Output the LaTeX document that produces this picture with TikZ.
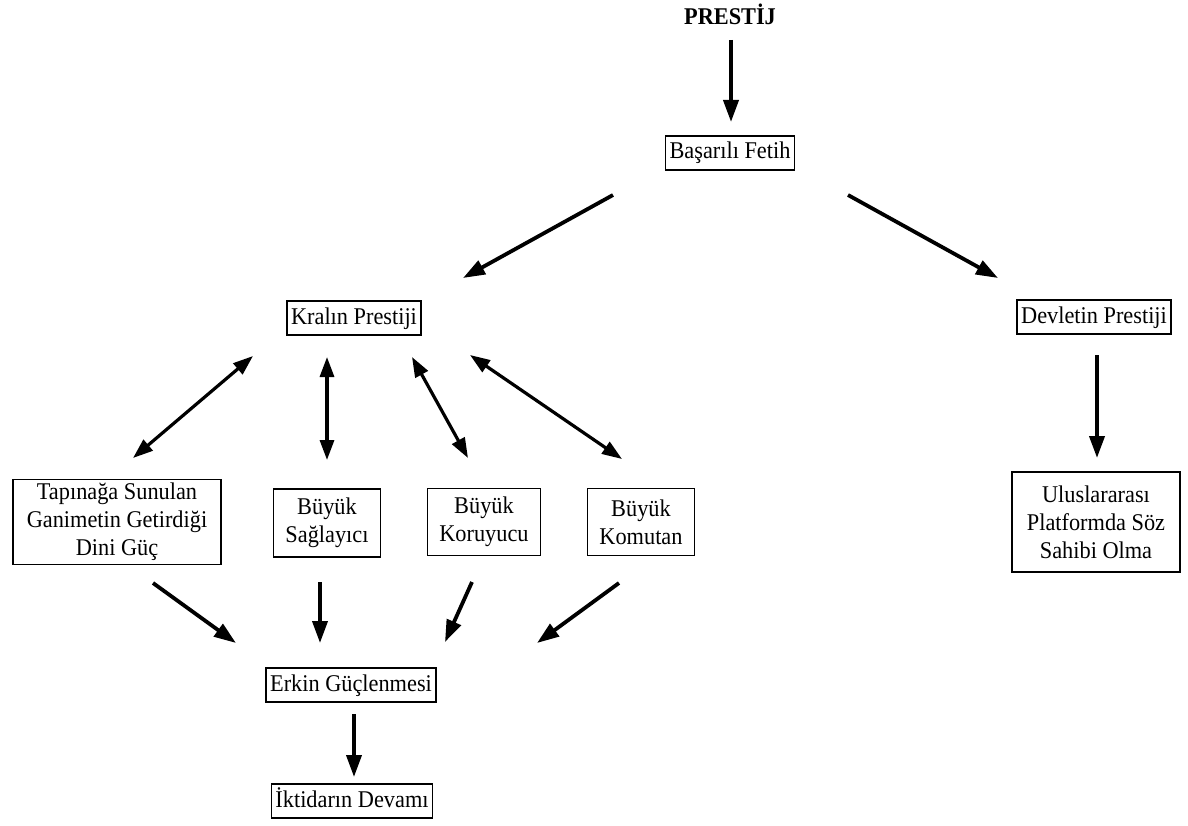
\documentclass[tikz,border=0pt]{standalone}
\usepackage{fontspec}
\setmainfont{Liberation Serif}[FakeStretch=0.93]
\usetikzlibrary{arrows.meta}
\begin{document}
\begin{tikzpicture}[x=1pt,y=-1pt,
  font=\fontsize{24}{28}\selectfont,
  box/.style={draw, line width=1.6pt, inner xsep=4pt, inner ysep=6pt, text height=17pt, text depth=5pt},
  mbox/.style={draw, line width=1.6pt, inner xsep=12pt, align=center},
  arr/.style={line width=3.8pt, -{Triangle[length=22pt,width=15pt]}},
  darr/.style={line width=3.2pt, {Triangle[length=20pt,width=14pt]}-{Triangle[length=20pt,width=14pt]}}]
\useasboundingbox (0,0) rectangle (1188,826);
% nodes
\node[font=\fontsize{24}{28}\selectfont\bfseries] (prestij) at (730,14) {PRESTİJ};
\node[box] (basari) at (730,153) {Başarılı Fetih};
\node[box] (kral) at (354,318) {Kralın Prestiji};
\node[box] (devlet) at (1094,317) {Devletin Prestiji};
\node[mbox, minimum height=85pt, inner xsep=14pt] (tapinak) at (117,522) {Tapınağa Sunulan\\Ganimetin Getirdiği\\Dini Güç};
\node[mbox, minimum height=68pt] (saglayici) at (327,523) {Büyük\\Sağlayıcı};
\node[mbox, minimum height=67pt] (koruyucu) at (484,522) {Büyük\\Koruyucu};
\node[mbox, minimum height=67pt] (komutan) at (641,522) {Büyük\\Komutan};
\node[mbox, minimum height=100pt, inner xsep=15pt] (ulus) at (1096,522) {Uluslararası\\Platformda Söz\\Sahibi Olma};
\node[box] (erkin) at (351,685) {Erkin Güçlenmesi};
\node[box] (iktidar) at (352,801) {İktidarın Devamı};
% connector end points
\coordinate (p1) at (731,40);  \coordinate (p2) at (731,122);
\coordinate (a1) at (613,195); \coordinate (a2) at (463,278);
\coordinate (b1) at (848,195); \coordinate (b2) at (998,278);
\coordinate (d1) at (1097,355); \coordinate (d2) at (1097,458);
\coordinate (t1) at (253,356); \coordinate (t2) at (133,458);
\coordinate (s1) at (327,357); \coordinate (s2) at (327,460);
\coordinate (k1) at (412,357); \coordinate (k2) at (468,458);
\coordinate (m1) at (470,355); \coordinate (m2) at (622,459);
\coordinate (e1a) at (153,583); \coordinate (e1b) at (236,643);
\coordinate (e2a) at (320,582); \coordinate (e2b) at (320,643);
\coordinate (e3a) at (472,582); \coordinate (e3b) at (445,642);
\coordinate (e4a) at (619,583); \coordinate (e4b) at (537,643);
\coordinate (i1) at (354,714); \coordinate (i2) at (354,777);
% connectors
\draw[arr] (p1) -- (p2);
\draw[arr] (a1) -- (a2);
\draw[arr] (b1) -- (b2);
\draw[arr] (d1) -- (d2);
\draw[darr] (t1) -- (t2);
\draw[darr] (s1) -- (s2);
\draw[darr] (k1) -- (k2);
\draw[darr] (m1) -- (m2);
\draw[arr] (e1a) -- (e1b);
\draw[arr] (e2a) -- (e2b);
\draw[arr] (e3a) -- (e3b);
\draw[arr] (e4a) -- (e4b);
\draw[arr] (i1) -- (i2);
\end{tikzpicture}
\end{document}
